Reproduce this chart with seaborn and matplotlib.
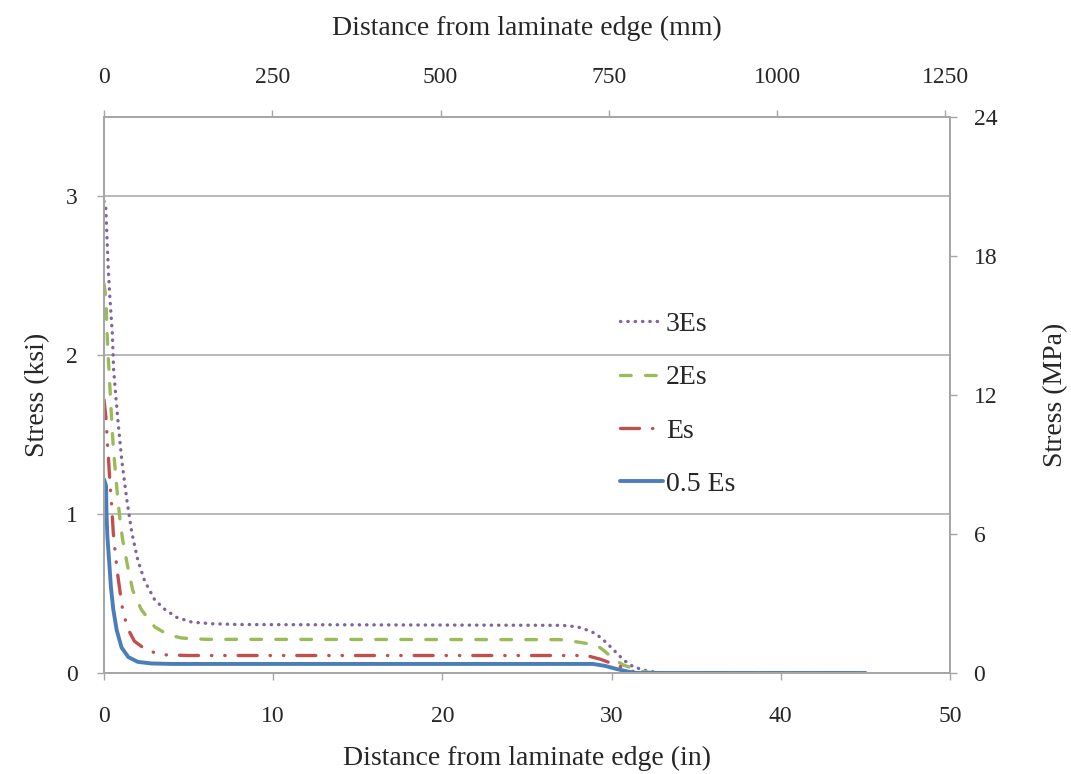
import matplotlib
matplotlib.use("Agg")
import matplotlib.pyplot as plt
import seaborn as sns

# distance from edge (in) and stress (ksi)
x_3es = [0, 0.1, 0.26, 0.35, 0.49, 0.57, 0.7, 0.85, 1.05, 1.35, 1.65, 2.0, 2.4, 3.0, 3.6, 4.3, 5.2, 6.4, 8.0,
         27.1, 28.0, 28.7, 29.1, 29.7, 30.3, 30.7, 31.3, 32.1, 33.0, 45]
y_3es = [2.97, 2.94, 2.53, 2.36, 2.14, 1.91, 1.74, 1.56, 1.34, 1.09, 0.88, 0.71, 0.58, 0.46, 0.40, 0.35, 0.32, 0.31, 0.305,
         0.30, 0.29, 0.265, 0.245, 0.19, 0.126, 0.082, 0.038, 0.013, 0.0, 0.0]

x_2es = [0, 0.12, 0.16, 0.23, 0.3, 0.45, 0.55, 0.77, 0.95, 1.1, 1.4, 1.7, 2.2, 3.0, 3.8, 4.6, 6.0,
         27.0, 28.0, 29.1, 29.5, 30.2, 30.7, 31.7, 32.5, 45]
y_2es = [2.45, 2.36, 2.2, 2.02, 1.9, 1.6, 1.42, 1.15, 0.96, 0.84, 0.67, 0.52, 0.40, 0.29, 0.24, 0.22, 0.212,
         0.21, 0.195, 0.176, 0.145, 0.082, 0.05, 0.013, 0.0, 0.0]

x_es = [0, 0.12, 0.2, 0.26, 0.35, 0.47, 0.55, 0.77, 0.95, 1.1, 1.4, 1.8, 2.5, 3.4, 5.0,
        28.5, 29.3, 30.1, 30.9, 31.5, 45]
y_es = [1.72, 1.6, 1.45, 1.36, 1.2, 1.03, 0.88, 0.65, 0.51, 0.4, 0.28, 0.2, 0.145, 0.115, 0.11,
        0.11, 0.088, 0.057, 0.025, 0.0, 0.0]

x_05es = [0, 0.12, 0.15, 0.2, 0.3, 0.41, 0.55, 0.75, 1.04, 1.44, 2.0, 2.8, 4.0,
          28.9, 29.6, 30.3, 31.0, 31.5, 45]
y_05es = [1.22, 1.18, 1.0, 0.86, 0.71, 0.54, 0.40, 0.27, 0.16, 0.10, 0.07, 0.06, 0.057,
          0.057, 0.045, 0.025, 0.008, 0.0, 0.0]

labels = ["3Es", "2Es", "Es", "0.5 Es"]
colors = ["#8064A2", "#9BBB59", "#C0504D", "#4A7EBB"]

in_ticks = [0, 10, 20, 30, 40, 50]
ksi_ticks = [0, 1, 2, 3]
mpa_ticks = [0, 6, 12, 18, 24]
mm_ticks = [0, 250, 500, 750, 1000, 1250]

sns.set_style("white")
plt.rcParams["font.family"] = ["Liberation Serif", "DejaVu Serif"]
plt.rcParams["font.size"] = 17
plt.rcParams["lines.dash_capstyle"] = "round"

grey = "#A6A6A6"
lab_size = 20

fig = plt.figure(figsize=(10.71, 7.74), dpi=100)
ax = fig.add_axes([0.0971, 0.1305, 0.7899, 0.7183])

styles = [(0, (0.1, 2.1)), (0, (3.2, 4.3)), (0, (5.7, 3.9, 0.1, 3.9, 0.1, 3.9)), "-"]
widths = [2.4, 2.4, 2.4, 2.8]
series = [(x_3es, y_3es), (x_2es, y_2es), (x_es, y_es), (x_05es, y_05es)]
for (xs, ys), lab, col, ls, lw in zip(series, labels, colors, styles, widths):
    sns.lineplot(x=xs, y=ys, ax=ax, color=col, linestyle=ls, lw=lw, label=lab, sort=False)

ax.set_xlim(0, 50)
ax.set_ylim(0, 3.5)
ax.set_xticks(in_ticks)
ax.set_yticks(ksi_ticks)
ax.yaxis.grid(True, color=grey, lw=1.1)
ax.set_axisbelow(True)
ax.set_xlabel("Distance from laminate edge (in)", fontsize=lab_size, labelpad=13)
ax.set_ylabel("Stress (ksi)", fontsize=lab_size, labelpad=11)
ax.tick_params(axis="x", direction="out", length=5, width=1, color=grey, pad=19)
ax.tick_params(axis="y", direction="out", length=5, width=1, color=grey, pad=14)

# right axis in MPa
ax_r = ax.twinx()
ax_r.set_ylim(0, 24)
ax_r.set_yticks(mpa_ticks)
ax_r.set_ylabel("Stress (MPa)", fontsize=lab_size, labelpad=33)
ax_r.tick_params(axis="y", direction="out", length=5, width=1, color=grey, pad=12)

# top axis in mm
ax_t = ax.twiny()
ax_t.set_xlim(0, 1257)
ax_t.set_xticks(mm_ticks)
ax_t.set_xlabel("Distance from laminate edge (mm)", fontsize=lab_size, labelpad=23)
ax_t.tick_params(axis="x", direction="out", length=5, width=1, color=grey, pad=16)

for a in (ax, ax_r, ax_t):
    for s in a.spines.values():
        s.set_color(grey)
        s.set_linewidth(1.1)

handles, labs = ax.get_legend_handles_labels()
ax.legend(handles, labs, loc="upper left", bbox_to_anchor=(0.61, 0.65), frameon=False,
          handlelength=1.55, handletextpad=0.1, labelspacing=1.0, borderpad=0,
          borderaxespad=0, fontsize=lab_size)

fig.savefig("out.png", dpi=100)
